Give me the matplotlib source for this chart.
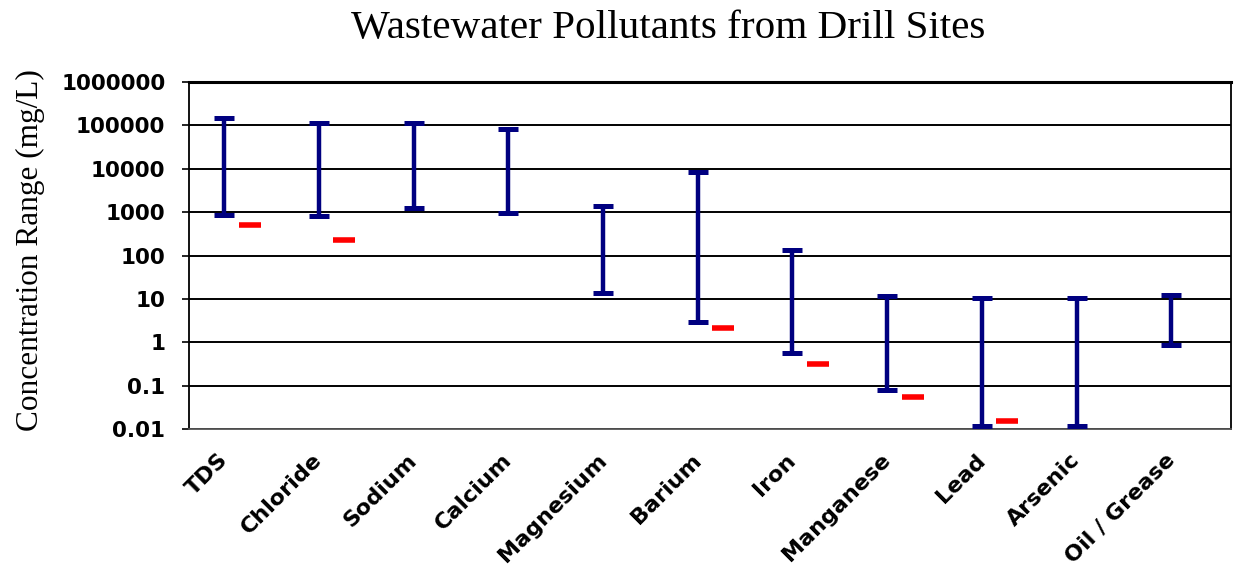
import numpy as np
import matplotlib
matplotlib.use("Agg")
import matplotlib.pyplot as plt
from matplotlib.transforms import ScaledTranslation

# Pollutant categories and concentration ranges (mg/L)
pollutants = ["TDS", "Chloride", "Sodium", "Calcium", "Magnesium", "Barium",
              "Iron", "Manganese", "Lead", "Arsenic", "Oil / Grease"]
range_high = [150000, 115000, 115000, 83000, 1350, 8200, 135, 11.5, 10.5, 10.5, 12]
range_low = [880, 820, 1250, 940, 13.5, 3.0, 0.58, 0.08, 0.0115, 0.0115, 0.85]
# Reference levels (red markers); NaN where none is given
reference = [500, 230, np.nan, np.nan, np.nan, 2.1, 0.32, 0.055, 0.015, np.nan, np.nan]

y_ticks = [0.01, 0.1, 1, 10, 100, 1000, 10000, 100000, 1000000]
y_tick_labels = ["0.01", "0.1", "1", "10", "100", "1000", "10000", "100000", "1000000"]

W, H, DPI = 1235, 567, 100
fig = plt.figure(figsize=(W / DPI, H / DPI), dpi=DPI)
ax = fig.add_axes([189 / W, 1 - 429 / H, (1231 - 189) / W, (429 - 82) / H])

x = np.arange(len(pollutants))
navy = "#000080"

# Range bars with caps
ax.vlines(x - 0.13, range_low, range_high, color=navy, lw=3.2, zorder=3)
ax.plot(x - 0.13, range_high, ls="none", marker="_", ms=15, mew=3.6,
        color=navy, zorder=3)
ax.plot(x - 0.13, range_low, ls="none", marker="_", ms=15, mew=3.6,
        color=navy, zorder=3)

# Reference level dashes
ax.plot(x + 0.14, reference, ls="none", marker="_", ms=16, mew=4.0,
        color="#ff0000", zorder=3)

ax.set_yscale("log")
ax.set_ylim(0.01, 1000000)
ax.set_xlim(-0.5, len(pollutants) - 0.5)

ax.set_yticks(y_ticks)
ax.set_yticklabels(y_tick_labels)
ax.yaxis.set_minor_locator(matplotlib.ticker.NullLocator())
ax.tick_params(axis="y", length=5, width=1.2, pad=12, labelsize=15.5)
for lab in ax.get_yticklabels():
    lab.set_fontweight("bold")
    lab.set_fontfamily("DejaVu Sans")

ax.set_xticks(x)
ax.set_xticklabels(pollutants, rotation=45, ha="right", va="top",
                   rotation_mode="anchor", fontsize=16, fontweight="bold",
                   fontfamily="DejaVu Sans")
ax.tick_params(axis="x", length=0, pad=15)
offset = ScaledTranslation(-19 / DPI, 0, fig.dpi_scale_trans)
for lab in ax.get_xticklabels():
    lab.set_transform(lab.get_transform() + offset)

ax.grid(axis="y", which="major", color="black", lw=1.4)
ax.set_axisbelow(True)
for side in ["left", "right"]:
    ax.spines[side].set_color("black")
    ax.spines[side].set_linewidth(1.3)
ax.spines["top"].set_linewidth(2.2)
ax.spines["bottom"].set_color("#555555")
ax.spines["bottom"].set_linewidth(1.3)

fig.text(668 / W, 1 - 38 / H, "Wastewater Pollutants from Drill Sites",
         ha="center", va="baseline", fontsize=29.6, fontfamily="Liberation Serif")
fig.text(30 / W, 1 - 250 / H, "Concentration Range (mg/L)", rotation=90,
         ha="center", va="center", fontsize=22.5, fontfamily="Liberation Serif")

fig.savefig("out.png", dpi=DPI)
